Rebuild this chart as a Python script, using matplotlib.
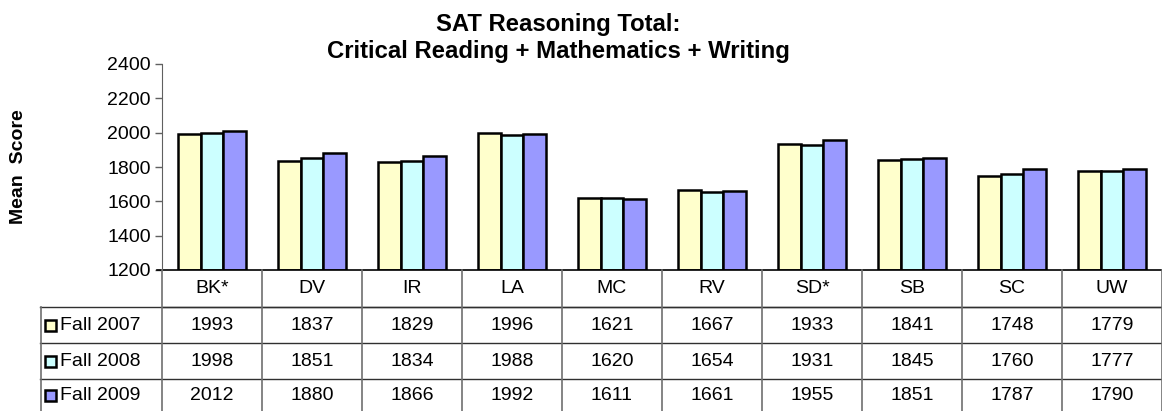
import matplotlib.pyplot as plt
import numpy as np

plt.rcParams['font.family'] = ['Liberation Sans', 'DejaVu Sans']

campuses = ['BK*', 'DV', 'IR', 'LA', 'MC', 'RV', 'SD*', 'SB', 'SC', 'UW']
fall_2007 = [1993, 1837, 1829, 1996, 1621, 1667, 1933, 1841, 1748, 1779]
fall_2008 = [1998, 1851, 1834, 1988, 1620, 1654, 1931, 1845, 1760, 1777]
fall_2009 = [2012, 1880, 1866, 1992, 1611, 1661, 1955, 1851, 1787, 1790]
series_names = ['Fall 2007', 'Fall 2008', 'Fall 2009']
colors = ['#FFFFCC', '#CCFFFF', '#9999FF']

W, H = 1162, 411
fig = plt.figure(figsize=(W / 100, H / 100), dpi=100)
fs = 14

# main bar axes (pixel layout from the reference)
ax = fig.add_axes([162 / W, (H - 270) / H, 1000 / W, 206 / H])
x = np.arange(len(campuses))
bw = 0.227
for k, vals in enumerate([fall_2007, fall_2008, fall_2009]):
    ax.bar(x + (k - 1) * bw, np.array(vals) - 1200, bottom=1200, width=bw,
           color=colors[k], edgecolor='black', linewidth=1.8)
ax.set_xlim(-0.5, 9.5)
ax.set_ylim(1200, 2400)
ax.set_yticks(range(1200, 2401, 200))
ax.set_xticks([])
ax.tick_params(axis='y', labelsize=fs, length=5, width=1, color='#606060', pad=3)
for s in ['top', 'right', 'bottom']:
    ax.spines[s].set_visible(False)
ax.spines['left'].set_color('#606060')
ax.axhline(1200, xmin=-0.005, xmax=1, color='black', lw=1.2, clip_on=False)

fig.text(19 / W, 1 - 167 / H, 'Mean  Score', rotation=90, ha='center', va='center',
         fontsize=14, fontweight='bold')
fig.text(558 / W, 1 - 38 / H, 'SAT Reasoning Total:\nCritical Reading + Mathematics + Writing',
         ha='center', va='center', fontsize=17.2, fontweight='bold', linespacing=1.2)

# data table below the axes
tb = fig.add_axes([40 / W, 0, 1122 / W, 141 / H])
tb.set_xlim(-0.5 - 1.22, 9.5)
tb.set_ylim(141, 0)
tb.axis('off')
row_top = [0, 37, 73, 109]
row_bot = [37, 73, 109, 141]
hc = '#303030'
vc = '#707070'
# horizontal lines
tb.plot([-0.5, 9.5], [37, 37], color=hc, lw=1, clip_on=False)
for y in [37, 73, 109]:
    tb.plot([-1.72, 9.5], [y, y], color=hc, lw=1, clip_on=False)
# vertical lines
for i in range(len(campuses) + 1):
    tb.plot([i - 0.5, i - 0.5], [0, 141], color=vc, lw=1.2, clip_on=False)
tb.plot([-1.715, -1.715], [37, 141], color=vc, lw=1.2, clip_on=False)

for i, c in enumerate(campuses):
    tb.text(i, 18.5, c, ha='center', va='center', fontsize=fs)
for r, vals in enumerate([fall_2007, fall_2008, fall_2009]):
    yc = (row_top[r + 1] + row_bot[r + 1]) / 2
    for i, v in enumerate(vals):
        tb.text(i, yc, str(v), ha='center', va='center', fontsize=fs)
    tb.add_patch(plt.Rectangle((-1.67, yc - 5.5), 0.11, 11, facecolor=colors[r],
                               edgecolor='black', lw=1.8, clip_on=False))
    tb.text(-1.52, yc, series_names[r], ha='left', va='center', fontsize=fs)

fig.savefig('out.png', dpi=100)
